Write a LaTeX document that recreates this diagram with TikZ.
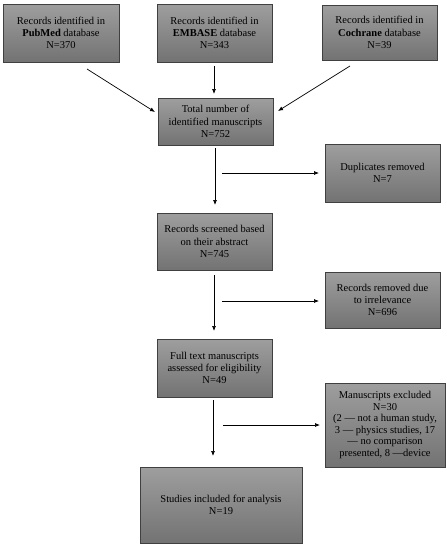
\documentclass[tikz,border=0pt]{standalone}
\usepackage{fontspec}
\setmainfont{Liberation Serif}
\usetikzlibrary{arrows.meta}
\begin{document}
\begin{tikzpicture}[x=1pt,y=-1pt,
  box/.style={draw=black!75, line width=0.7pt, top color=black!38, bottom color=black!55,
    align=center, inner sep=0pt, font=\fontsize{10.5}{12.3}\selectfont, text=black},
  arr/.style={draw=black, line width=0.7pt, -{Latex[length=5pt,width=4pt]}}]
\useasboundingbox[fill=white] (0,0) rectangle (447,550);
% boxes
\node[box, minimum width=116pt, minimum height=58pt] (pub) at (61,33) {Records identified in\\\textbf{PubMed} database\\N=370};
\node[box, minimum width=115pt, minimum height=58pt] (emb) at (214.5,33) {Records identified in\\\textbf{EMBASE} database\\N=343};
\node[box, minimum width=115pt, minimum height=55pt] (coc) at (379.5,32.5) {Records identified in\\\textbf{Cochrane} database\\N=39};
\node[box, minimum width=115pt, minimum height=47pt] (tot) at (215.5,121.5) {Total number of\\identified manuscripts\\N=752};
\node[box, minimum width=115pt, minimum height=58pt] (dup) at (382.5,173) {Duplicates removed\\N=7};
\node[box, minimum width=115pt, minimum height=57pt] (scr) at (214.5,241.5) {Records screened based\\on their abstract\\N=745};
\node[box, minimum width=115pt, minimum height=56pt] (rem) at (382.5,300) {Records removed due\\to irrelevance\\N=696};
\node[box, minimum width=115pt, minimum height=58pt] (ful) at (214.5,368) {Full text manuscripts\\assessed for eligibility\\N=49};
\node[box, minimum width=120pt, minimum height=84pt, font=\fontsize{10.5}{11.5}\selectfont] (exc) at (385,425) {Manuscripts excluded\\N=30\\(2 — not a human study,\\3 — physics studies, 17\\— no comparison\\presented, 8 —device};
\node[box, minimum width=162pt, minimum height=76pt] (stu) at (221,505) {Studies included for analysis\\N=19};
% connector end points
\coordinate (p1) at (87,69);   \coordinate (p2) at (155,112);
\coordinate (e1) at (214,66);  \coordinate (e2) at (214,94);
\coordinate (c1) at (350,66);  \coordinate (c2) at (278,111);
\coordinate (t1) at (215,148); \coordinate (t2) at (215,205);
\coordinate (d1) at (222,173); \coordinate (d2) at (319,173);
\coordinate (s1) at (214,275); \coordinate (s2) at (214,331);
\coordinate (r1) at (222,301); \coordinate (r2) at (319,301);
\coordinate (f1) at (213,400); \coordinate (f2) at (213,456);
\coordinate (x1) at (223,425); \coordinate (x2) at (320,425);
\draw[arr] (p1) -- (p2);
\draw[arr] (e1) -- (e2);
\draw[arr] (c1) -- (c2);
\draw[arr] (t1) -- (t2);
\draw[arr] (d1) -- (d2);
\draw[arr] (s1) -- (s2);
\draw[arr] (r1) -- (r2);
\draw[arr] (f1) -- (f2);
\draw[arr] (x1) -- (x2);
\end{tikzpicture}
\end{document}
